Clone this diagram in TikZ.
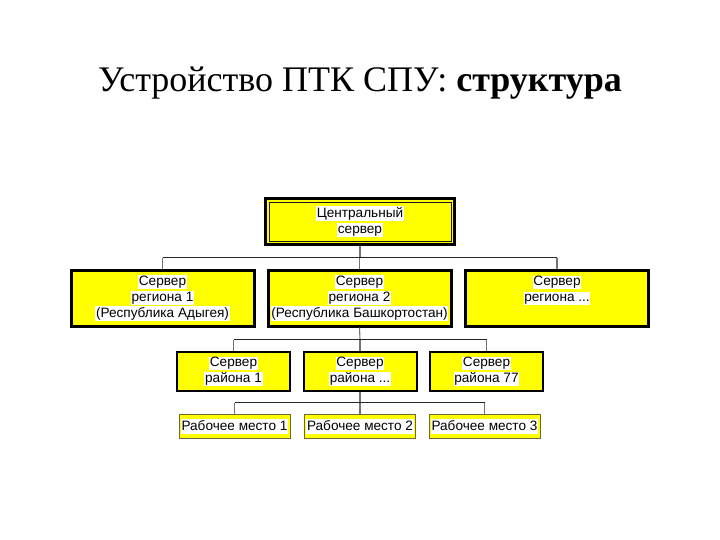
\documentclass[tikz,border=0pt]{standalone}
\usepackage{fontspec}
\setmainfont{Liberation Serif}
\newfontfamily\boxfont{Liberation Sans}
\definecolor{ylw}{RGB}{255,255,0}
\definecolor{wborder}{RGB}{110,105,50}
\newcommand{\hl}[1]{{\setlength{\fboxsep}{0.7pt}\colorbox{white}{\vphantom{Ру}#1}}}
\begin{document}
\begin{tikzpicture}[x=1pt,y=-1pt,
  boxtext/.style={font=\boxfont\fontsize{13.6}{15.8}\selectfont, align=center, inner sep=0pt},
  centralbox/.style={boxtext, draw=black, line width=3pt, fill=ylw, minimum width=189pt, minimum height=46pt},
  regionbox/.style={boxtext, draw=black, line width=3pt, fill=ylw, minimum width=183pt, minimum height=56pt},
  districtbox/.style={boxtext, draw=black, line width=2pt, fill=ylw, minimum width=113pt, minimum height=39pt},
  workbox/.style={boxtext, draw=wborder, line width=0.8pt, fill=ylw, minimum width=111pt, minimum height=24pt},
  busline/.style={draw=black!85, line width=1pt},
  dropline/.style={draw=black!55, line width=1.1pt}]
\useasboundingbox (0,0) rectangle (720,540);
\fill[white] (0,0) rectangle (720,540);

\node[anchor=base, font=\fontsize{36}{40}\selectfont] (title) at (360,92) {Устройство ПТК СПУ: \textbf{структура}};

\node[centralbox] (c) at (360,221.5) {\hl{Центральный}\\\hl{сервер}};
\draw[line width=0.9pt, draw=black!90] ([xshift=5pt,yshift=-5pt]c.north west) rectangle ([xshift=-5pt,yshift=5pt]c.south east);

\node[regionbox] (r1) at (162.5,298) {\hl{Сервер}\\\hl{региона 1}\\\hl{(Республика Адыгея)}};
\node[regionbox] (r2) at (359.5,298) {\hl{Сервер}\\\hl{региона 2}\\\hl{(Республика Башкортостан)}};
\node[regionbox] (r3) at (557,298) {\hl{Сервер}\\\hl{региона ...}\\\vphantom{(Ру}};

\node[districtbox] (d1) at (233.5,371.5) {\hl{Сервер}\\\hl{района 1}};
\node[districtbox] (d2) at (360,371.5) {\hl{Сервер}\\\hl{района ...}};
\node[districtbox] (d3) at (486.5,371.5) {\hl{Сервер}\\\hl{района 77}};

\node[workbox] (w1) at (234.5,426.5) {\hl{Рабочее место 1}};
\node[workbox] (w2) at (360,426.5) {\hl{Рабочее место 2}};
\node[workbox] (w3) at (484.5,426.5) {\hl{Рабочее место 3}};

\coordinate (bus1) at (360,257.5);
\coordinate (bus2) at (360,339.5);
\coordinate (bus3) at (360,402.5);

% level 1
\draw[dropline] (c.south) -- (bus1);
\draw[busline] (r1.north |- bus1) -- (r3.north |- bus1);
\draw[dropline] (r1.north |- bus1) -- (r1.north);
\draw[dropline] (r2.north |- bus1) -- (r2.north);
\draw[dropline] (r3.north |- bus1) -- (r3.north);
% level 2
\draw[dropline] (r2.south) -- (bus2);
\draw[busline] (d1.north |- bus2) -- (d3.north |- bus2);
\draw[dropline] (d1.north |- bus2) -- (d1.north);
\draw[dropline] (d2.north |- bus2) -- (d2.north);
\draw[dropline] (d3.north |- bus2) -- (d3.north);
% level 3
\draw[dropline] (d2.south) -- (bus3);
\draw[busline] (w1.north |- bus3) -- (w3.north |- bus3);
\draw[dropline] (w1.north |- bus3) -- (w1.north);
\draw[dropline] (w2.north |- bus3) -- (w2.north);
\draw[dropline] (w3.north |- bus3) -- (w3.north);
\end{tikzpicture}
\end{document}
